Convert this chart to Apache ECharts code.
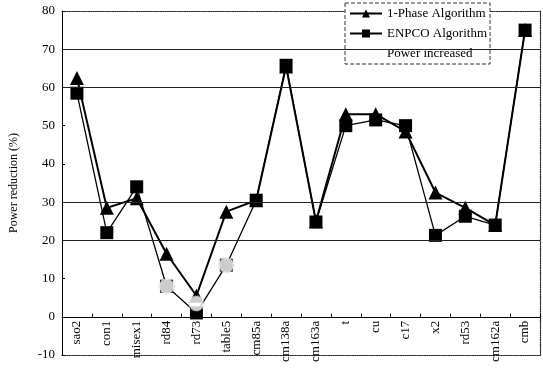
<!DOCTYPE html>
<html>
<head>
<meta charset="utf-8">
<script src="https://cdn.jsdelivr.net/npm/echarts@6/dist/echarts.min.js"></script>
<style>
  html, body { margin: 0; padding: 0; background: #fff; }
  #main { width: 543px; height: 370px; }
</style>
</head>
<body>
<div id="main"></div>
<script>
// circuits on the x axis
const circuits = ['sao2', 'con1', 'misex1', 'rd84', 'rd73', 'table5', 'cm85a', 'cm138a',
  'cm163a', 't', 'cu', 'c17', 'x2', 'rd53', 'cm162a', 'cmb'];
// power reduction (%)
const onePhase = [62.5, 28.5, 31, 16.5, 5.5, 27.5, 30.5, 65.5, 25, 53, 53, 48.5, 32.5, 28.5, 24, 75];
const enpco = [58.5, 22, 34, 8, 1, 13.5, 30.5, 65.8, 24.8, 50, 51.5, 50, 21.3, 26.3, 24, 75];
// hollow markers where power increased
const powerIncreased = ['-', '-', '-', 8, 3.5, 13.5, '-', '-', '-', '-', '-', '-', '-', '-', '-', '-'];
const gridValues = [20, 30, 60, 70];
const yMin = -10, yMax = 80;

const font = 'Liberation Serif';
const W = 543, H = 370;
const gridBox = { left: 62, right: 3, top: 11, bottom: 15 };
// move the category axis up to the zero line (onZero keeps labels at the edge in v6)
const plotH = H - gridBox.top - gridBox.bottom;
const zeroOffset = -plotH * (0 - yMin) / (yMax - yMin);

const dottedFrame = { show: true, onZero: false, lineStyle: { color: '#222', width: 1.2, type: 'dotted' } };
const chart = echarts.init(document.getElementById('main'));

chart.setOption({
  animation: false,
  backgroundColor: '#fff',
  textStyle: { fontFamily: font, color: '#000' },
  grid: Object.assign({ outerBoundsMode: 'none' }, gridBox),
  legend: {
    orient: 'vertical',
    left: 345,
    top: 3,
    itemWidth: 32,
    itemHeight: 10,
    itemGap: 7,
    padding: [4, 3, 4, 4],
    backgroundColor: '#fff',
    borderColor: '#333',
    borderWidth: 1,
    borderType: 'dashed',
    textStyle: { fontFamily: font, fontSize: 13, color: '#000' },
    data: ['1-Phase Algorithm', 'ENPCO Algorithm',
      { name: 'Power increased', icon: 'none' }]
  },
  xAxis: [
    {
      type: 'category',
      data: circuits,
      boundaryGap: true,
      position: 'bottom',
      offset: zeroOffset,
      axisLine: { onZero: false, lineStyle: { color: '#000', width: 1 } },
      axisTick: { show: true, inside: true, length: 3, lineStyle: { color: '#000' } },
      axisLabel: {
        rotate: 90, interval: 0, margin: 4,
        fontFamily: font, fontSize: 13, color: '#000'
      },
      splitLine: { show: false },
      z: 2
    },
    {
      type: 'category',
      data: circuits,
      position: 'top',
      axisLine: dottedFrame,
      axisTick: { show: false },
      axisLabel: { show: false }
    },
    {
      type: 'category',
      data: circuits,
      position: 'bottom',
      axisLine: dottedFrame,
      axisTick: { show: false },
      axisLabel: { show: false }
    }
  ],
  yAxis: [
    {
      type: 'value',
      min: yMin,
      max: yMax,
      interval: 10,
      name: 'Power reduction (%)',
      nameLocation: 'middle',
      nameGap: 42,
      nameTextStyle: { fontFamily: font, fontSize: 12, color: '#000' },
      axisLine: { show: true, onZero: false, lineStyle: { color: '#000' } },
      axisTick: { show: true, inside: true, length: 3, lineStyle: { color: '#000' } },
      axisLabel: { fontFamily: font, fontSize: 13, color: '#000', margin: 7 },
      splitLine: { show: false }
    },
    {
      type: 'value',
      min: yMin,
      max: yMax,
      interval: 10,
      position: 'right',
      axisLine: dottedFrame,
      axisTick: { show: false },
      axisLabel: { show: false },
      splitLine: { show: false }
    }
  ],
  series: [
    {
      name: '1-Phase Algorithm',
      type: 'line',
      data: onePhase,
      symbol: 'triangle',
      symbolSize: 14,
      itemStyle: { color: '#000' },
      lineStyle: { color: '#000', width: 2 },
      markLine: {
        silent: true,
        symbol: 'none',
        label: { show: false },
        lineStyle: { color: '#222', width: 1, type: 'solid' },
        data: gridValues.map(v => ({ yAxis: v }))
      },
      z: 3
    },
    {
      name: 'ENPCO Algorithm',
      type: 'line',
      data: enpco,
      symbol: 'rect',
      symbolSize: 13,
      itemStyle: { color: '#000' },
      lineStyle: { color: '#000', width: 1.3 },
      z: 4
    },
    {
      name: 'Power increased',
      type: 'scatter',
      data: powerIncreased,
      symbol: 'circle',
      symbolSize: 15,
      itemStyle: { color: '#fff', borderColor: '#c8c8c8', borderWidth: 1.2, borderType: 'dotted' },
      z: 5
    }
  ]
});
</script>
</body>
</html>
